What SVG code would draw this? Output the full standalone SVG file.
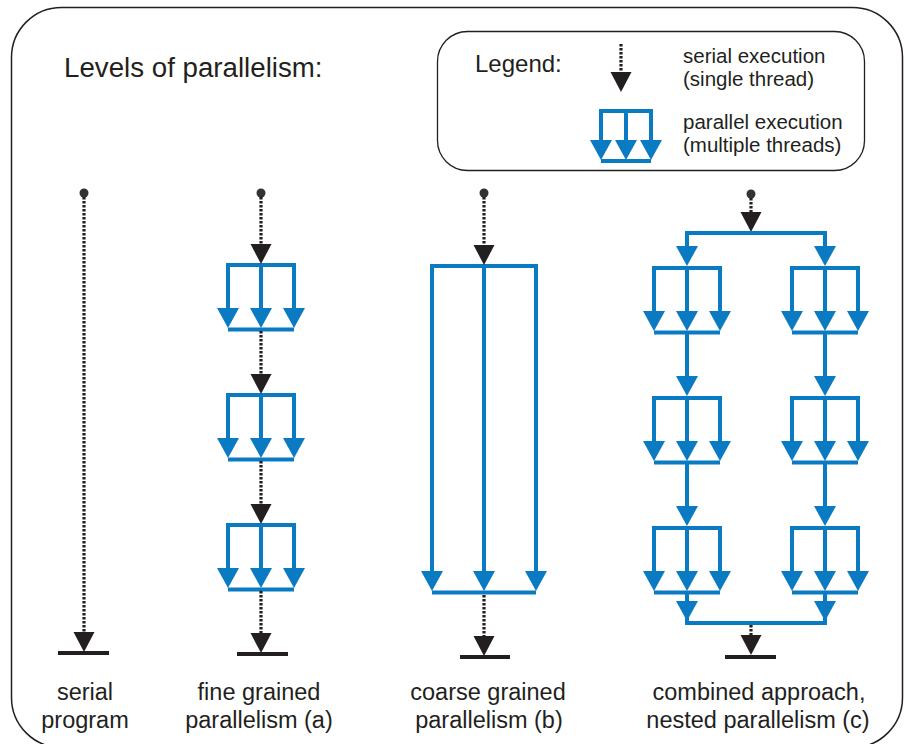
<svg xmlns="http://www.w3.org/2000/svg" xmlns:xlink="http://www.w3.org/1999/xlink" width="904" height="744" viewBox="0 0 904 744">
  <style>
    .frame { fill: #ffffff; stroke: #231f20; stroke-width: 1.5; }
    .legendbox { fill: #ffffff; stroke: #231f20; stroke-width: 1.3; }
    .blue { fill: none; stroke: #0a7bc3; stroke-width: 4; stroke-linejoin: miter; }
    .btri { fill: #0a7bc3; }
    .ktri { fill: #231f20; }
    .serial { fill: none; stroke: #231f20; stroke-width: 3.2; stroke-dasharray: 2.5 1.5; }
    .bar { stroke: #231f20; stroke-width: 4; }
    .dot { fill: #333333; }
    text { font-family: "Liberation Sans", Arial, sans-serif; fill: #231f20; }
    .title { font-size: 27.7px; }
    .legend { font-size: 24px; }
    .small { font-size: 20.5px; }
    .label { font-size: 23.5px; text-anchor: middle; }
  </style>
  <defs>
    <!-- black arrowhead, tip at origin -->
    <polygon id="karrow" class="ktri" points="-10.5,-20 10.5,-20 0,0"/>
    <!-- blue arrowhead, tip at origin -->
    <polygon id="barrow" class="btri" points="-11,-20 11,-20 0,0"/>
    <!-- fork/join block of three threads, centre x=0, top bar y=0 -->
    <g id="fork">
      <path class="blue" d="M-33,46 V0 H33 V46 M0,0 V46"/>
      <use xlink:href="#barrow" x="-33" y="63"/>
      <use xlink:href="#barrow" x="0" y="63"/>
      <use xlink:href="#barrow" x="33" y="63"/>
      <path class="blue" d="M-33,64.5 H33"/>
    </g>
  </defs>

  <!-- outer frame -->
  <rect class="frame" x="11.5" y="7.5" width="891" height="740" rx="50" ry="50"/>

  <text class="title" x="64" y="77">Levels of parallelism:</text>

  <!-- legend -->
  <g id="legend">
    <rect class="legendbox" x="437.5" y="31.5" width="427" height="139" rx="30" ry="30"/>
    <text class="legend" x="475" y="72">Legend:</text>
    <path class="serial" d="M621,44 V73"/>
    <use xlink:href="#karrow" x="621" y="92"/>
    <text class="small" x="683" y="63">serial execution</text>
    <text class="small" x="683" y="86">(single thread)</text>
    <path class="blue" d="M601,142 V111 H651 V142 M626,111 V142"/>
    <use xlink:href="#barrow" x="601" y="160"/>
    <use xlink:href="#barrow" x="626" y="160"/>
    <use xlink:href="#barrow" x="651" y="160"/>
    <path class="blue" d="M601,161 H651"/>
    <text class="small" x="683" y="129">parallel execution</text>
    <text class="small" x="683" y="152">(multiple threads)</text>
  </g>

  <!-- nodes: start points, thread blocks, end bars -->
  <g id="serial-program">
    <circle class="dot" cx="84" cy="193" r="4.5"/>
    <line class="bar" x1="58" y1="653" x2="109" y2="653"/>
  </g>

  <g id="fine-grained">
    <circle class="dot" cx="261" cy="193" r="4.5"/>
    <use id="fine-block-1" xlink:href="#fork" x="261" y="265"/>
    <use id="fine-block-2" xlink:href="#fork" x="261" y="395"/>
    <use id="fine-block-3" xlink:href="#fork" x="261" y="525"/>
    <line class="bar" x1="237" y1="654" x2="288" y2="654"/>
  </g>

  <g id="coarse-grained">
    <circle class="dot" cx="484" cy="193" r="4.5"/>
    <path class="blue" d="M432,574 V266 H536 V574 M484,266 V574"/>
    <use xlink:href="#barrow" x="432" y="591"/>
    <use xlink:href="#barrow" x="484" y="591"/>
    <use xlink:href="#barrow" x="536" y="591"/>
    <path class="blue" d="M432,592.5 H536"/>
    <line class="bar" x1="460" y1="657" x2="510" y2="657"/>
  </g>

  <g id="nested">
    <circle class="dot" cx="751" cy="194" r="4.5"/>
    <use id="nested-left-1" xlink:href="#fork" x="687" y="268"/>
    <use id="nested-left-2" xlink:href="#fork" x="687" y="398"/>
    <use id="nested-left-3" xlink:href="#fork" x="687" y="528"/>
    <use id="nested-right-1" xlink:href="#fork" x="825" y="268"/>
    <use id="nested-right-2" xlink:href="#fork" x="825" y="398"/>
    <use id="nested-right-3" xlink:href="#fork" x="825" y="528"/>
    <line class="bar" x1="725" y1="657" x2="776" y2="657"/>
  </g>

  <!-- connectors -->
  <g id="connectors">
    <!-- serial program -->
    <path class="serial" d="M84,197 V634"/>
    <use xlink:href="#karrow" x="84" y="652"/>

    <!-- fine grained -->
    <path class="serial" d="M261,197 V244"/>
    <use xlink:href="#karrow" x="261" y="264"/>
    <path class="serial" d="M261,331 V374"/>
    <use xlink:href="#karrow" x="261" y="394"/>
    <path class="serial" d="M261,461 V504"/>
    <use xlink:href="#karrow" x="261" y="524"/>
    <path class="serial" d="M261,591 V634"/>
    <use xlink:href="#karrow" x="261" y="653"/>

    <!-- coarse grained -->
    <path class="serial" d="M484,197 V245"/>
    <use xlink:href="#karrow" x="484" y="265"/>
    <path class="serial" d="M484,595 V637"/>
    <use xlink:href="#karrow" x="484" y="656"/>

    <!-- nested: split -->
    <path class="serial" d="M751,198 V213"/>
    <use xlink:href="#karrow" x="751" y="232"/>
    <path class="blue" d="M687,250 V233 H825 V250"/>
    <use xlink:href="#barrow" x="687" y="266"/>
    <use xlink:href="#barrow" x="825" y="266"/>

    <!-- nested: between blocks -->
    <path class="blue" d="M687,334 V380 M825,334 V380 M687,464 V510 M825,464 V510"/>
    <use xlink:href="#barrow" x="687" y="396"/>
    <use xlink:href="#barrow" x="825" y="396"/>
    <use xlink:href="#barrow" x="687" y="526"/>
    <use xlink:href="#barrow" x="825" y="526"/>

    <!-- nested: join -->
    <path class="blue" d="M687,594 V623 H825 V594"/>
    <use xlink:href="#barrow" x="687" y="621"/>
    <use xlink:href="#barrow" x="825" y="621"/>
    <path class="serial" d="M751,625 V636"/>
    <use xlink:href="#karrow" x="751" y="655"/>
  </g>

  <!-- captions -->
  <text class="label" x="85" y="700">serial</text>
  <text class="label" x="85" y="728">program</text>
  <text class="label" x="259" y="700">fine grained</text>
  <text class="label" x="259" y="728">parallelism (a)</text>
  <text class="label" x="488" y="700">coarse grained</text>
  <text class="label" x="489" y="728">parallelism (b)</text>
  <text class="label" x="759" y="700">combined approach,</text>
  <text class="label" x="758" y="728">nested parallelism (c)</text>
</svg>
